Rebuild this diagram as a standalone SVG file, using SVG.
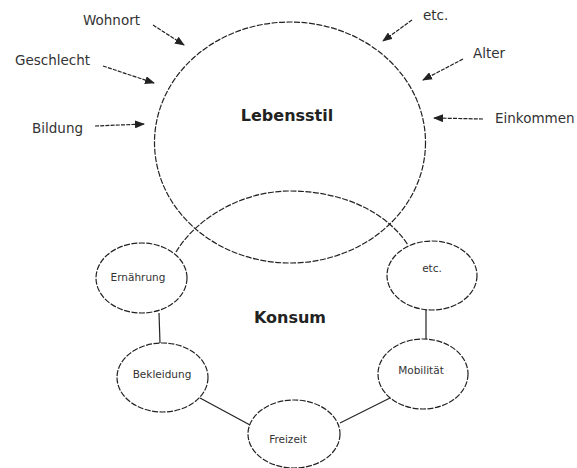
<svg xmlns="http://www.w3.org/2000/svg" width="577" height="468" viewBox="0 0 577 468">
<defs>
<marker id="ah" markerWidth="10" markerHeight="8" refX="9" refY="4" orient="auto" markerUnits="userSpaceOnUse">
<path d="M0,0 L10,4 L0,8 Z" fill="#222"/>
</marker>
<style>
.sh{fill:none;stroke:#222;stroke-width:1.2;stroke-dasharray:6 1.5}
.ln{fill:none;stroke:#222;stroke-width:1.2}
.ar{fill:none;stroke:#222;stroke-width:1.2;stroke-dasharray:4 1.2;marker-end:url(#ah)}
.lb{font-family:"DejaVu Sans",sans-serif;font-size:13.5px;fill:#333}
.sm{font-family:"DejaVu Sans",sans-serif;font-size:10.5px;fill:#333;text-anchor:middle}
.big{font-family:"DejaVu Sans",sans-serif;font-size:16px;font-weight:bold;fill:#222;text-anchor:middle}
</style>
</defs>
<rect width="577" height="468" fill="#fff"/>
<g id="lebensstil">
<ellipse class="sh" cx="290" cy="142.5" rx="135.5" ry="120.5"/>
<text class="big" x="287" y="121">Lebensstil</text>
</g>
<g id="konsum">
<path class="sh" d="M176,252 C195,220 240,191 290,191 C340,191 385,210 408,245"/>
<text class="big" x="290" y="323">Konsum</text>
</g>
<g id="ernaehrung">
<ellipse class="sh" cx="141.5" cy="278" rx="45.5" ry="35"/>
<text class="sm" x="138" y="281">Ernährung</text>
</g>
<g id="etc-node">
<ellipse class="sh" cx="432" cy="275.5" rx="45" ry="34.5"/>
<text class="sm" x="432" y="272">etc.</text>
</g>
<g id="mobilitaet">
<ellipse class="sh" cx="423" cy="374" rx="45" ry="35"/>
<text class="sm" x="421" y="374">Mobilität</text>
</g>
<g id="bekleidung">
<ellipse class="sh" cx="162.5" cy="377.5" rx="45.5" ry="34.5"/>
<text class="sm" x="162" y="378">Bekleidung</text>
</g>
<g id="freizeit">
<ellipse class="sh" cx="294" cy="434" rx="46" ry="34"/>
<text class="sm" x="288" y="443">Freizeit</text>
</g>
<g id="labels">
<text class="lb" x="83" y="25">Wohnort</text>
<text class="lb" x="15" y="65">Geschlecht</text>
<text class="lb" x="32" y="133">Bildung</text>
<text class="lb" x="423" y="20">etc.</text>
<text class="lb" x="473" y="58">Alter</text>
<text class="lb" x="495" y="123">Einkommen</text>
</g>
<g id="connectors">
<line class="ar" x1="153" y1="25" x2="184" y2="45"/>
<line class="ar" x1="103" y1="66" x2="154" y2="83"/>
<line class="ar" x1="95" y1="126" x2="144" y2="124"/>
<line class="ar" x1="412" y1="20" x2="383" y2="41"/>
<line class="ar" x1="463" y1="59" x2="423" y2="80"/>
<line class="ar" x1="483" y1="119" x2="434" y2="118"/>
<line class="ln" x1="159" y1="313" x2="160" y2="343"/>
<line class="ln" x1="200" y1="398" x2="250" y2="425"/>
<line class="ln" x1="340" y1="423" x2="390" y2="398"/>
<line class="ln" x1="426" y1="310" x2="426" y2="339"/>
</g>
</svg>
